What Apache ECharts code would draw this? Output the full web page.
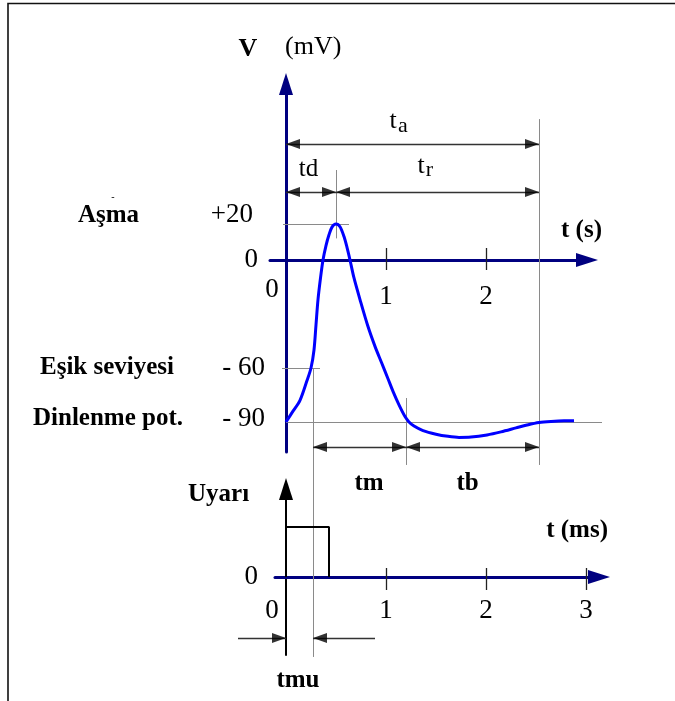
<!DOCTYPE html>
<html>
<head>
<meta charset="utf-8">
<script src="https://cdn.jsdelivr.net/npm/echarts@6/dist/echarts.min.js"></script>
<style>
  html, body { margin: 0; padding: 0; background: #fff; }
  #chart { width: 675px; height: 701px; }
</style>
</head>
<body>
<div id="chart"></div>
<script>
// Membrane potential during an action potential: time (s) and voltage (mV)
const timeS = [0, 0.07, 0.14, 0.21, 0.25, 0.28, 0.30, 0.32, 0.345, 0.37,
  0.40, 0.43, 0.46, 0.50, 0.54, 0.58, 0.61, 0.64, 0.68, 0.74,
  0.82, 0.89, 0.955, 1.02, 1.07, 1.13, 1.19, 1.23, 1.28, 1.37,
  1.50, 1.62, 1.73, 1.85, 2.01, 2.15, 2.30, 2.41, 2.53, 2.65,
  2.78, 2.88];
const voltageMv = [-90, -84, -78, -67, -60, -50, -36, -22, -10, 0,
  8, 14, 18.3, 20, 18.5, 13, 7, 0, -10, -22,
  -37, -48, -57, -66, -73, -80.5, -87, -90, -92.3, -94.8,
  -96.8, -98, -98.6, -98.4, -97.2, -95.5, -93.3, -91.7, -90.3, -89.7,
  -89.4, -89.4];

// Stimulus pulse (Uyarı): time (ms) and relative amplitude
const stimTimeMs = [0, 0, 0.43, 0.43];
const stimLevel = [0, 1, 1, 0];

// Axis ticks and labels
const topTickValues = [1, 2];
const topLabelValues = [0, 1, 2];
const bottomTickValues = [1, 2, 3];
const bottomLabelValues = [0, 1, 2, 3];
const voltageLabelValues = [20, 0, -60, -90];
const voltageLabelTexts = ['+20', '0', '- 60', '- 90'];

// Characteristic instants of the trace
const thresholdTime = 0.27;   // threshold (Eşik seviyesi) crossing
const peakTime = 0.50;        // overshoot peak
const returnTime = 1.20;      // back to resting potential
const endTime = 2.53;         // end of after-potential

const NAVY = '#000080';
const BLUE = '#0000ff';
const GUIDE = '#8a8a8a';
const DIM = '#333333';
const SERIF = '"Liberation Serif", "Times New Roman", serif';

const zip = (a, b) => a.map((x, i) => [x, b[i]]);

// Panel geometry and axis ranges
const topGrid = { left: 270, top: 84, width: 317, height: 368 };
const bottomGrid = { left: 275, top: 489, width: 324, height: 166 };
const topX = [-0.16, 3.01], topY = [-106.7, 97.8];
const bottomX = [-0.11, 3.13], bottomY = [-1.56, 1.76];

// Axes cross at zero: shift each axis line from the grid edge to the other axis' zero
const zeroShift = (len, range) => -len * (0 - range[0]) / (range[1] - range[0]);

// Thin guide lines, in voltage-panel coordinates
const guideLines = [
  [[-0.03, 20], [0.63, 20]],
  [[-0.04, -60], [0.34, -60]],
  [[0, -90], [3.16, -90]],
  [[peakTime, 50], [peakTime, 12]],
  [[thresholdTime, -60], [thresholdTime, -220.6]],
  [[returnTime, -76.7], [returnTime, -113.9]],
  [[endTime, 78.3], [endTime, -113.9]]
];

// Double-headed dimension arrows: [from, to, level]
const taLevel = 64.4, tdLevel = 37.8, tmLevel = -103.9;
const dimArrows = [
  [0, endTime, taLevel],
  [0, peakTime, tdLevel],
  [peakTime, endTime, tdLevel],
  [thresholdTime, returnTime, tmLevel],
  [returnTime, endTime, tmLevel]
];

// Stimulus-duration marker (tmu) in the stimulus panel
const tmuLevel = -1.22;
const tmuShafts = [
  [[-0.48, tmuLevel], [0, tmuLevel]],
  [[0.89, tmuLevel], [thresholdTime, tmuLevel]]
];

function head(t, v, dir) {
  return {
    value: [t, v],
    symbolRotate: dir > 0 ? -90 : 90,
    symbolOffset: [dir > 0 ? -7 : 7, 0]
  };
}
const topHeads = [];
dimArrows.forEach(([a, b, lvl]) => {
  topHeads.push(head(a, lvl, -1));
  topHeads.push(head(b, lvl, 1));
});
const bottomHeads = [head(0, tmuLevel, 1), head(thresholdTime, tmuLevel, -1)];

const labelFont = { fontFamily: SERIF, fontSize: 27, color: '#000' };
const tickStyle = { color: '#222', width: 1.3 };

function xAxisMain(grid, xr, offset, ticks, labels, margin, shiftDown, tickLen) {
  return {
    type: 'value', gridIndex: grid, min: xr[0], max: xr[1],
    position: 'bottom', offset: offset,
    axisLine: {
      show: true, onZero: false,
      lineStyle: { color: NAVY, width: 3 },
      symbol: ['none', 'triangle'], symbolSize: [14, 22]
    },
    axisTick: { show: true, customValues: ticks, length: tickLen, lineStyle: tickStyle },
    axisLabel: {
      show: true, customValues: labels, margin: margin,
      formatter: v => v === 0 ? '{z|0}' : '{n|' + v + '}',
      rich: {
        z: Object.assign({ padding: [0, 28, 0, 0] }, labelFont),
        n: Object.assign({ padding: [shiftDown, 0, 0, 0] }, labelFont)
      }
    },
    splitLine: { show: false }
  };
}
function xAxisUpTicks(grid, xr, offset, ticks, len) {
  return {
    type: 'value', gridIndex: grid, min: xr[0], max: xr[1],
    position: 'bottom', offset: offset,
    axisLine: { show: false, onZero: false },
    axisTick: { show: true, inside: true, customValues: ticks, length: len, lineStyle: tickStyle },
    axisLabel: { show: false },
    splitLine: { show: false }
  };
}

const topXOffset = zeroShift(topGrid.height, topY);
const bottomXOffset = zeroShift(bottomGrid.height, bottomY);
const topYOffset = zeroShift(topGrid.width, topX);
const bottomYOffset = zeroShift(bottomGrid.width, bottomX);

const option = {
  animation: false,
  backgroundColor: '#fff',
  grid: [topGrid, bottomGrid],
  xAxis: [
    xAxisMain(0, topX, topXOffset, topTickValues, topLabelValues, 16.5, 7, 10),
    xAxisUpTicks(0, topX, topXOffset, topTickValues, 12),
    xAxisMain(1, bottomX, bottomXOffset, bottomTickValues, bottomLabelValues, 20.5, 0, 13),
    xAxisUpTicks(1, bottomX, bottomXOffset, bottomTickValues, 9)
  ],
  yAxis: [
    {
      type: 'value', gridIndex: 0, min: topY[0], max: topY[1],
      position: 'left', offset: topYOffset,
      axisLine: {
        show: true, onZero: false,
        lineStyle: { color: NAVY, width: 3 },
        symbol: ['none', 'triangle'], symbolSize: [14, 22]
      },
      axisTick: { show: false },
      axisLabel: {
        show: true, customValues: voltageLabelValues, margin: 21,
        formatter: v => {
          const i = voltageLabelValues.indexOf(v);
          return '{l' + i + '|' + voltageLabelTexts[i] + '}';
        },
        rich: {
          l0: Object.assign({ padding: [0, 12, 18, 0] }, labelFont),
          l1: Object.assign({ padding: [0, 7, 0, 0] }, labelFont),
          l2: Object.assign({}, labelFont),
          l3: Object.assign({ padding: [0, 0, 6, 0] }, labelFont)
        }
      },
      splitLine: { show: false }
    },
    {
      type: 'value', gridIndex: 1, min: bottomY[0], max: bottomY[1],
      position: 'left', offset: bottomYOffset,
      axisLine: {
        show: true, onZero: false,
        lineStyle: { color: '#000', width: 2 },
        symbol: ['none', 'triangle'], symbolSize: [14, 22]
      },
      axisTick: { show: false },
      axisLabel: Object.assign({ show: true, customValues: [0], margin: 28 }, labelFont),
      splitLine: { show: false }
    }
  ],
  series: [
    {
      type: 'lines', coordinateSystem: 'cartesian2d', xAxisIndex: 0, yAxisIndex: 0,
      clip: false, silent: true, z: 2,
      lineStyle: { color: GUIDE, width: 1, opacity: 1 },
      data: guideLines.map(c => ({ coords: c }))
    },
    {
      type: 'lines', coordinateSystem: 'cartesian2d', xAxisIndex: 0, yAxisIndex: 0,
      clip: false, silent: true, z: 3,
      lineStyle: { color: DIM, width: 1.4, opacity: 1 },
      data: dimArrows.map(([a, b, lvl]) => ({ coords: [[a, lvl], [b, lvl]] }))
    },
    {
      type: 'scatter', xAxisIndex: 0, yAxisIndex: 0, clip: false, silent: true, z: 4,
      symbol: 'triangle', symbolSize: [10, 14],
      itemStyle: { color: '#000' },
      data: topHeads
    },
    {
      name: 'V', type: 'line', xAxisIndex: 0, yAxisIndex: 0, clip: false, z: 5,
      showSymbol: false, smooth: 0.3,
      lineStyle: { color: BLUE, width: 3 },
      data: zip(timeS, voltageMv)
    },
    {
      name: 'Uyarı', type: 'line', xAxisIndex: 2, yAxisIndex: 1, clip: false, z: 5,
      showSymbol: false,
      lineStyle: { color: '#000', width: 2 },
      data: zip(stimTimeMs, stimLevel)
    },
    {
      type: 'lines', coordinateSystem: 'cartesian2d', xAxisIndex: 2, yAxisIndex: 1,
      clip: false, silent: true, z: 3,
      lineStyle: { color: DIM, width: 1.4, opacity: 1 },
      data: tmuShafts.map(c => ({ coords: c }))
    },
    {
      type: 'scatter', xAxisIndex: 2, yAxisIndex: 1, clip: false, silent: true, z: 4,
      symbol: 'triangle', symbolSize: [10, 14],
      itemStyle: { color: '#000' },
      data: bottomHeads
    }
  ],
  graphic: [
    { type: 'rect', z: 0, silent: true, shape: { x: 8, y: 3.5, width: 700, height: 720 },
      style: { fill: 'none', stroke: '#111', lineWidth: 1.6 } },
    txt('V', 248, 49, 26, 'bold', 'center'),
    txt('(mV)', 285, 47, 26, 'normal', 'left'),
    txt('t', 393, 121.5, 26, 'normal', 'center'),
    txt('a', 403, 126.5, 22, 'normal', 'center'),
    txt('td', 308.5, 169, 25, 'normal', 'center'),
    txt('t', 421, 166.5, 26, 'normal', 'center'),
    txt('r', 429.5, 170.5, 22, 'normal', 'center'),
    txt('-', 113, 197, 10, 'normal', 'center'),
    txt('Aşma', 78, 215.5, 25, 'bold', 'left'),
    txt('t (s)', 602, 230.5, 25, 'bold', 'right'),
    txt('Eşik seviyesi', 40, 367.5, 25, 'bold', 'left'),
    txt('Dinlenme pot.', 33, 419, 25, 'bold', 'left'),
    txt('tm', 369, 484, 25, 'bold', 'center'),
    txt('tb', 467.5, 484, 25, 'bold', 'center'),
    txt('Uyarı', 188, 495, 25, 'bold', 'left'),
    txt('t (ms)', 608, 530.5, 25, 'bold', 'right'),
    txt('tmu', 298, 681, 25, 'bold', 'center')
  ]
};

function txt(text, x, y, size, weight, align) {
  return {
    type: 'text', x: x, y: y, z: 100, silent: true,
    style: {
      text: text, fontFamily: SERIF, fontSize: size, fontWeight: weight,
      fill: '#000', align: align, verticalAlign: 'middle'
    }
  };
}

const chart = echarts.init(document.getElementById('chart'), null, { renderer: 'canvas' });
chart.setOption(option);
</script>
</body>
</html>
